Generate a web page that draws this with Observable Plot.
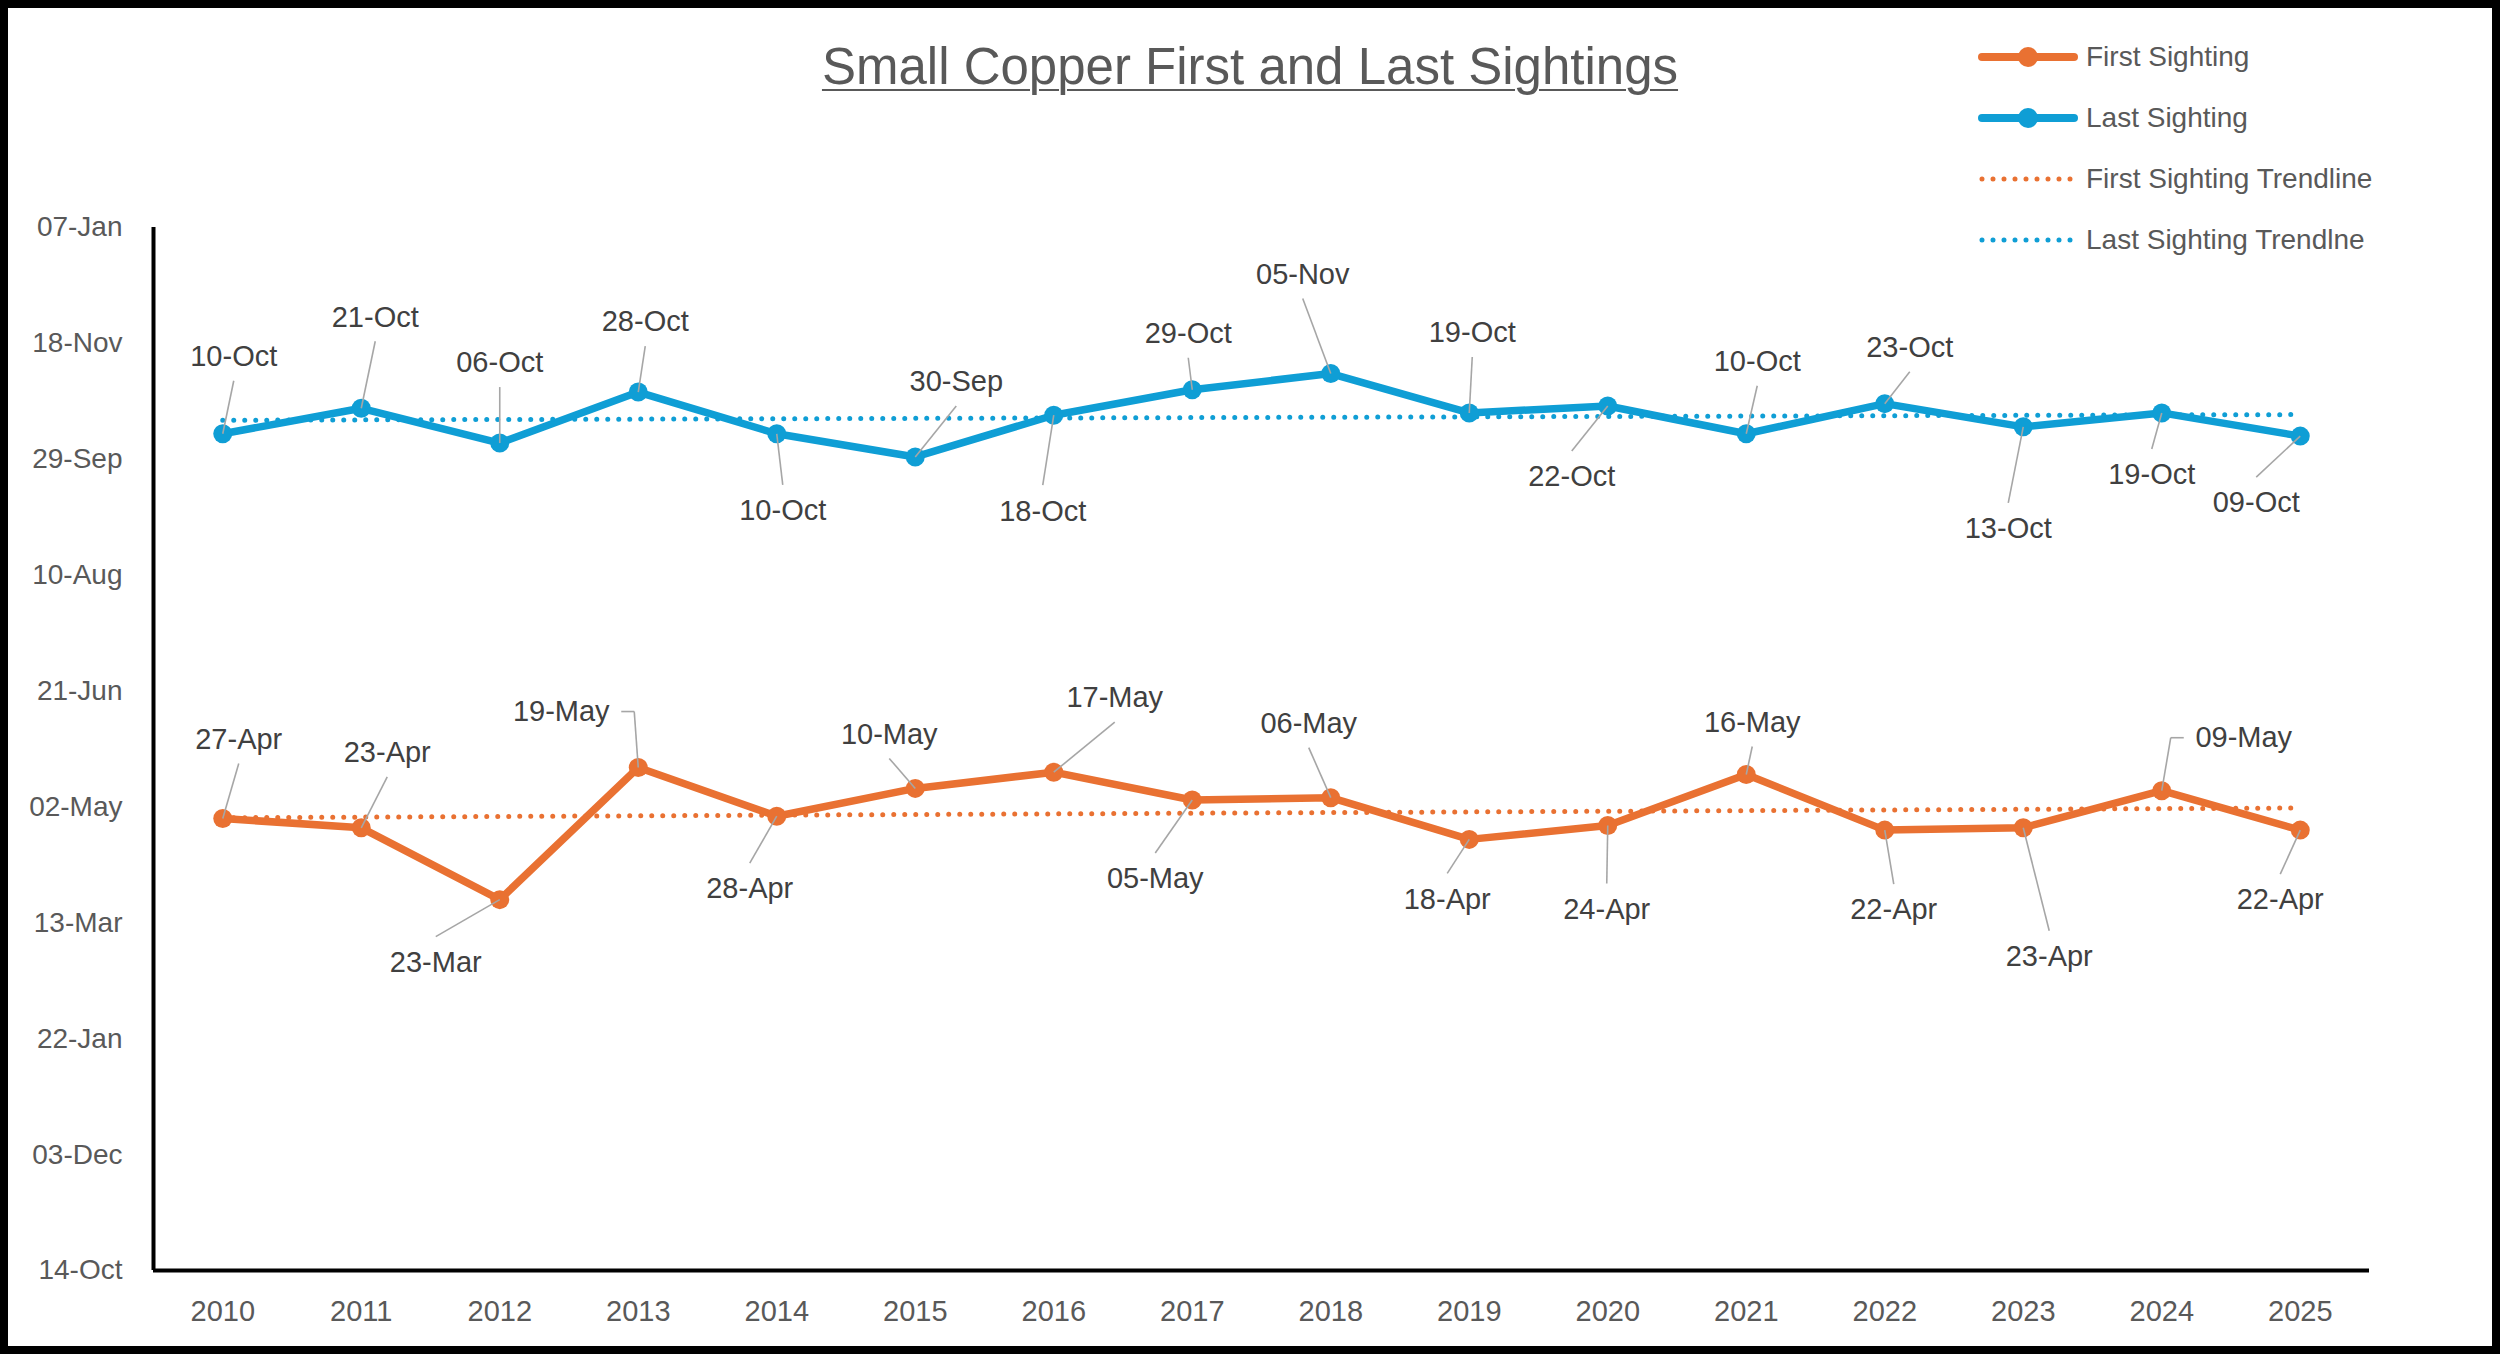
<!DOCTYPE html>
<html>
<head>
<meta charset="utf-8">
<script src="https://cdn.jsdelivr.net/npm/d3@7"></script>
<script src="https://cdn.jsdelivr.net/npm/@observablehq/plot@0.6"></script>
<style>
  html, body { margin: 0; padding: 0; background: #fff; }
  #page { position: relative; width: 2500px; height: 1354px; overflow: hidden; background: #fff;
          font-family: "Liberation Sans", Arial, sans-serif; }
  #border { position: absolute; left: 0; top: 0; width: 2500px; height: 1354px; box-sizing: border-box;
            border: 8px solid #000; pointer-events: none; z-index: 5; }
  #chart { position: absolute; left: 0; top: 0; }
  #title { position: absolute; left: 0; width: 2500px; top: 41px; text-align: center; font-size: 51px;
           line-height: 51px; color: #595959; }
  #title span { text-decoration: underline; text-decoration-thickness: 2px; text-underline-offset: 5px; }
  #legend { position: absolute; left: 1978px; top: 26px; }
  .item { display: flex; align-items: center; height: 61px; font-size: 28px; color: #595959; white-space: nowrap; }
  .item svg { margin-right: 8px; flex: none; }
</style>
</head>
<body>
<div id="page">
  <div id="chart"></div>
  <div id="title"><span>Small Copper First and Last Sightings</span></div>
  <div id="legend"></div>
  <div id="border"></div>
</div>
<script>
// ---------------- data ----------------
const years = [2010, 2011, 2012, 2013, 2014, 2015, 2016, 2017, 2018, 2019, 2020, 2021, 2022, 2023, 2024, 2025];
const firstSighting = ["27-Apr", "23-Apr", "23-Mar", "19-May", "28-Apr", "10-May", "17-May", "05-May",
                       "06-May", "18-Apr", "24-Apr", "16-May", "22-Apr", "23-Apr", "09-May", "22-Apr"];
const lastSighting = ["10-Oct", "21-Oct", "06-Oct", "28-Oct", "10-Oct", "30-Sep", "18-Oct", "29-Oct",
                      "05-Nov", "19-Oct", "22-Oct", "10-Oct", "23-Oct", "13-Oct", "19-Oct", "09-Oct"];
const yTicks = ["2000-10-14", "2000-12-03", "2001-01-22", "2001-03-13", "2001-05-02",
                "2001-06-21", "2001-08-10", "2001-09-29", "2001-11-18", "2002-01-07"];
const seriesNames = ["First Sighting", "Last Sighting", "First Sighting Trendline", "Last Sighting Trendlne"];

// ---------------- styling / layout ----------------
const colors = { first: "#E97132", last: "#0F9ED5" };
// data-label offsets in pixels from their point: [dx, dy, leader style]
const firstLabelOffsets = [[16, -79], [26, -75], [-64, 63], [-77, -56, "elbowRight"], [-27, 73], [-26, -54],
  [61, -74], [-37, 79], [-22, -74], [-22, 60], [-1, 84], [6, -52], [9, 80], [26, 129], [82, -53, "elbowLeft"], [-20, 70]];
const lastLabelOffsets = [[11, -77], [14, -91], [0, -80], [7, -70], [6, 77], [41, -75], [-11, 96], [-4, -56],
  [-28, -99], [3, -80], [-36, 71], [11, -72], [25, -56], [-15, 102], [-10, 62], [-44, 67]];

const W = 2500, H = 1354, mL = 153, mR = 131, mT = 227, mB = 84;
const plotW = W - mL - mR, plotH = H - mT - mB;
const xDomain = [years[0] - 0.5, years[years.length - 1] + 0.5];
const yDomain = [new Date(yTicks[0]), new Date(yTicks[yTicks.length - 1])];
const pxPerYear = plotW / (xDomain[1] - xDomain[0]);
const msPerPx = (yDomain[1] - yDomain[0]) / plotH;
const parseDay = d3.utcParse("%d-%b-%Y");

function build(values, offsets, key) {
  const pts = years.map((year, i) => ({ year, date: parseDay(values[i] + "-2001"), label: values[i], key }));
  const labels = [], leaders = [];
  pts.forEach((p, i) => {
    const [dx, dy, mode] = offsets[i];
    const lx = p.year + dx / pxPerYear;
    const ly = new Date(+p.date - dy * msPerPx);
    labels.push({ lx, ly, label: p.label });
    if (mode === "elbowRight" || mode === "elbowLeft") {
      const hw = 50;
      const sx = mode === "elbowRight" ? lx + (hw + 10) / pxPerYear : lx - (hw + 10) / pxPerYear;
      const cx = p.year + (mode === "elbowRight" ? -4 : 9) / pxPerYear;
      leaders.push({ x1: sx, y1: ly, x2: cx, y2: ly });
      leaders.push({ x1: cx, y1: ly, x2: p.year, y2: p.date });
    } else {
      const edge = dy < 0 ? 24 : -26;
      leaders.push({ x1: p.year, y1: p.date, x2: lx, y2: new Date(+ly - edge * msPerPx) });
    }
  });
  return { pts, labels, leaders };
}

const first = build(firstSighting, firstLabelOffsets, "first");
const last = build(lastSighting, lastLabelOffsets, "last");
const tickFmt = d3.utcFormat("%d-%b");

const chart = Plot.plot({
  width: W, height: H,
  marginLeft: mL, marginRight: mR, marginTop: mT, marginBottom: mB,
  style: { fontFamily: "Liberation Sans, Arial, sans-serif", background: "transparent", overflow: "visible" },
  x: { type: "linear", domain: xDomain },
  y: { type: "utc", domain: yDomain },
  marks: [
    Plot.axisY({ ticks: yTicks.map(d => new Date(d)), tickFormat: tickFmt, tickSize: 0, tickPadding: 31,
                 fontSize: 28, color: "#595959", label: null }),
    Plot.axisX({ ticks: years, tickFormat: d => String(d), tickSize: 0, tickPadding: 30,
                 fontSize: 29, color: "#595959", label: null }),
    Plot.ruleX([xDomain[0]], { stroke: "#000", strokeWidth: 4 }),
    Plot.ruleY([yDomain[0]], { stroke: "#000", strokeWidth: 4 }),
    Plot.line(first.pts, { x: "year", y: "date", stroke: colors.first, strokeWidth: 7.5, strokeLinejoin: "round" }),
    Plot.line(last.pts, { x: "year", y: "date", stroke: colors.last, strokeWidth: 7.5, strokeLinejoin: "round" }),
    Plot.linearRegressionY(first.pts, { x: "year", y: d => +d.date, stroke: colors.first, strokeWidth: 5,
                 strokeDasharray: "0 11", strokeLinecap: "round", ci: 0 }),
    Plot.linearRegressionY(last.pts, { x: "year", y: d => +d.date, stroke: colors.last, strokeWidth: 5,
                 strokeDasharray: "0 11", strokeLinecap: "round", ci: 0 }),
    Plot.dot(first.pts, { x: "year", y: "date", r: 9.5, fill: colors.first }),
    Plot.dot(last.pts, { x: "year", y: "date", r: 9.5, fill: colors.last }),
    Plot.link(first.leaders.concat(last.leaders), { x1: "x1", y1: "y1", x2: "x2", y2: "y2",
                 stroke: "#A6A6A6", strokeWidth: 1.6 }),
    Plot.text(first.labels.concat(last.labels), { x: "lx", y: "ly", text: "label", fontSize: 29, fill: "#404040" })
  ]
});
document.getElementById("chart").appendChild(chart);

// ---------------- legend ----------------
const legendDefs = [
  { name: seriesNames[0], color: colors.first, kind: "line" },
  { name: seriesNames[1], color: colors.last, kind: "line" },
  { name: seriesNames[2], color: colors.first, kind: "dots" },
  { name: seriesNames[3], color: colors.last, kind: "dots" }
];
const legend = document.getElementById("legend");
legendDefs.forEach(d => {
  const item = document.createElement("div");
  item.className = "item";
  const sw = d.kind === "line"
    ? `<svg width="100" height="24"><line x1="4" y1="12" x2="96" y2="12" stroke="${d.color}" stroke-width="8" stroke-linecap="round"/><circle cx="50" cy="12" r="10" fill="${d.color}"/></svg>`
    : `<svg width="100" height="24"><line x1="4" y1="12" x2="96" y2="12" stroke="${d.color}" stroke-width="5" stroke-dasharray="0 11" stroke-linecap="round"/></svg>`;
  item.innerHTML = sw + `<span>${d.name}</span>`;
  legend.appendChild(item);
});
</script>
</body>
</html>
